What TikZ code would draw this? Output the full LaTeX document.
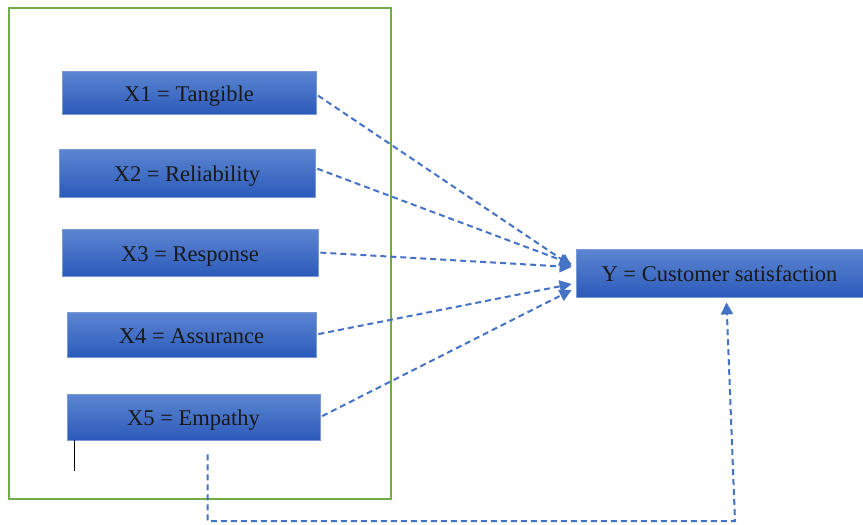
\documentclass[tikz,border=0pt]{standalone}
\usepackage{fontspec}
\setmainfont{Liberation Serif}
\usepackage{tikz}
\usetikzlibrary{arrows.meta,positioning}

\definecolor{boxtop}{RGB}{92,134,210}
\definecolor{boxbot}{RGB}{44,90,186}
\definecolor{boxline}{RGB}{120,155,215}
\definecolor{linkblue}{RGB}{68,114,196}
\definecolor{framegreen}{RGB}{112,173,71}

\begin{document}
\begin{tikzpicture}
		[
			x=1pt, y=-1pt,
			font=\fontsize{22.5}{26}\selectfont,
			var/.style={rectangle, draw=boxline, line width=0.8pt,
				top color=boxtop, bottom color=boxbot, text=black!90,
				inner sep=0pt, text height=20pt, text depth=3pt},
			arrow/.style={-{Triangle[length=12pt,width=12pt]}, linkblue,
				line width=2pt, dash pattern=on 6pt off 4pt, shorten <=2pt}
		]

		\useasboundingbox (0,0) rectangle (863,525);

		% frame round the independent variables
		\draw[framegreen, line width=1.5pt] (9,8) rectangle (391,499);

		% independent variables
		\node[var, minimum width=254pt, minimum height=43pt] (x1) at (189.0,  92.5) {X1 = Tangible};
		\node[var, minimum width=256pt, minimum height=48pt] (x2) at (187.0, 173.0) {X2 = Reliability};
		\node[var, minimum width=256pt, minimum height=47pt] (x3) at (190.0, 252.5) {X3 = Response};
		\node[var, minimum width=249pt, minimum height=45pt] (x4) at (191.5, 334.5) {X4 = Assurance};
		\node[var, minimum width=253pt, minimum height=46pt] (x5) at (193.5, 417.0) {X5 = Empathy};

		% dependent variable
		\node[var, minimum width=287pt, minimum height=48pt] (y) at (719.5, 273.0) {Y = Customer satisfaction};

		% arrow ends in front of y
		\coordinate (t1) at ([xshift=-4pt,yshift=7pt]y.west);
		\coordinate (t2) at ([xshift=-4pt,yshift=9pt]y.west);
		\coordinate (t3) at ([xshift=-4pt,yshift=6pt]y.west);
		\coordinate (t4) at ([xshift=-4pt,yshift=-11pt]y.west);
		\coordinate (t5) at ([xshift=-4pt,yshift=-17pt]y.west);

		% paths from each variable
		\draw[arrow] ([yshift=-2pt]x1.east) -- (t1);
		\draw[arrow] ([yshift=5pt]x2.east) -- (t2);
		\foreach \from/\to in {x3/t3,x4/t4,x5/t5}
		\draw[arrow] (\from.east) -- (\to);

		% joint path below the frame
		\coordinate (b1) at ([xshift=14pt,yshift=-14pt]x5.south);
		\coordinate (b2) at (735,521);
		\coordinate (t6) at ([xshift=7pt,yshift=-5pt]y.south);
		\draw[arrow, shorten <=0pt] (b1) |- (b2) -- (t6);

		% cursor mark
		\draw[black, line width=1.2pt] ([xshift=8pt]x5.south west) -- ++(0,31);

	\end{tikzpicture}
\end{document}
